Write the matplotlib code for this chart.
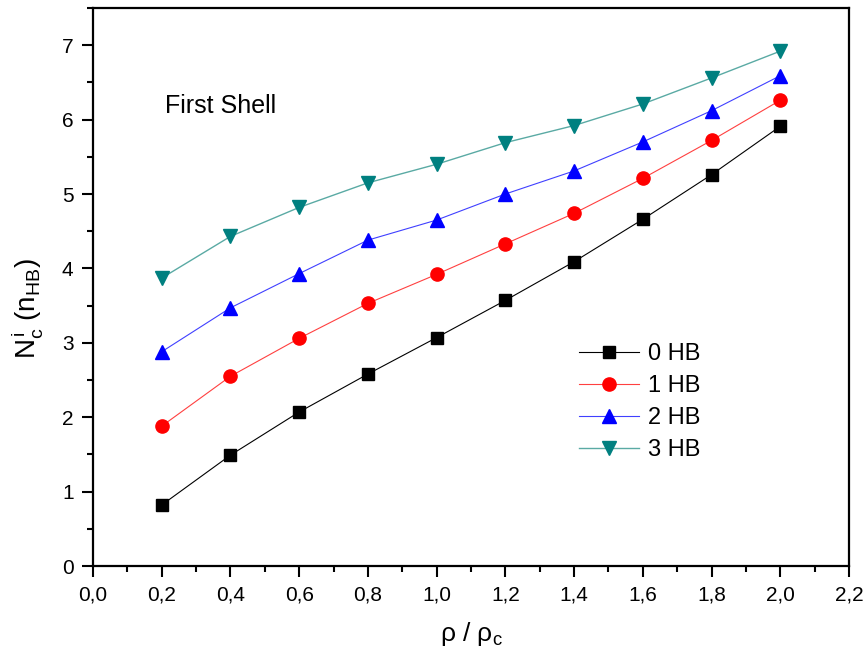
import matplotlib
matplotlib.use("Agg")
import matplotlib.pyplot as plt
from matplotlib.ticker import MultipleLocator, FuncFormatter

plt.rcParams['font.family'] = ['Liberation Sans', 'DejaVu Sans']
plt.rcParams['mathtext.fontset'] = 'custom'
plt.rcParams['mathtext.rm'] = 'Liberation Sans'
plt.rcParams['mathtext.it'] = 'Liberation Sans'

x = [0.2, 0.4, 0.6, 0.8, 1.0, 1.2, 1.4, 1.6, 1.8, 2.0]
hb0 = [0.82, 1.49, 2.07, 2.58, 3.07, 3.57, 4.09, 4.66, 5.26, 5.91]
hb1 = [1.88, 2.55, 3.06, 3.53, 3.92, 4.33, 4.74, 5.21, 5.72, 6.26]
hb2 = [2.88, 3.47, 3.93, 4.38, 4.65, 5.00, 5.31, 5.70, 6.12, 6.59]
hb3 = [3.87, 4.43, 4.82, 5.15, 5.40, 5.69, 5.92, 6.21, 6.56, 6.92]
labels = ['0 HB', '1 HB', '2 HB', '3 HB']

fig = plt.figure(figsize=(8.68, 6.65), dpi=100)
ax = fig.add_axes([93/868, 1-566/665, (849-93)/868, (566-8)/665])

ax.plot(x, hb0, color='black', lw=0.8, marker='s', ms=8.5, mfc='black', mec='black', label=labels[0])
ax.plot(x, hb1, color='#ff4040', lw=0.8, marker='o', ms=9.5, mfc='#ff0000', mec='#ff0000', label=labels[1])
ax.plot(x, hb2, color='#4040ff', lw=0.8, marker='^', ms=10, mfc='#0000ff', mec='#0000ff', label=labels[2])
ax.plot(x, hb3, color='#5aaaa4', lw=1.0, marker='v', ms=10, mfc='#008080', mec='#008080', label=labels[3])

ax.set_xlim(0, 2.2)
ax.set_ylim(0, 7.5)
ax.xaxis.set_major_locator(MultipleLocator(0.2))
ax.xaxis.set_minor_locator(MultipleLocator(0.1))
ax.yaxis.set_major_locator(MultipleLocator(1))
ax.yaxis.set_minor_locator(MultipleLocator(0.5))
ax.xaxis.set_major_formatter(FuncFormatter(lambda v, p: f"{v:.1f}".replace('.', ',')))
ax.yaxis.set_major_formatter(FuncFormatter(lambda v, p: f"{v:.0f}"))
ax.tick_params(which='major', direction='out', length=8, width=1.5, labelsize=15, pad=6)
ax.tick_params(which='minor', direction='out', length=4.5, width=1.5)
for s in ax.spines.values():
    s.set_linewidth(1.6)

ax.set_xlabel(r'$\mathregular{\rho\ /\ \rho_c}$', fontsize=19)
ax.xaxis.set_label_coords(0.5, -0.097)
ax.set_ylabel(r'$\mathregular{N^{\,i}_{c}\ (n_{HB})}$', fontsize=20)
ax.yaxis.set_label_coords(-0.064, 0.462)

ax.text(0.21, 6.18, 'First Shell', fontsize=18, va='center', ha='left')

ax.legend(loc='upper left', bbox_to_anchor=(0.615, 0.437), frameon=False, fontsize=17,
          handlelength=2.55, handletextpad=0.35, labelspacing=0.42, numpoints=1)

fig.savefig('out.png', dpi=100)
